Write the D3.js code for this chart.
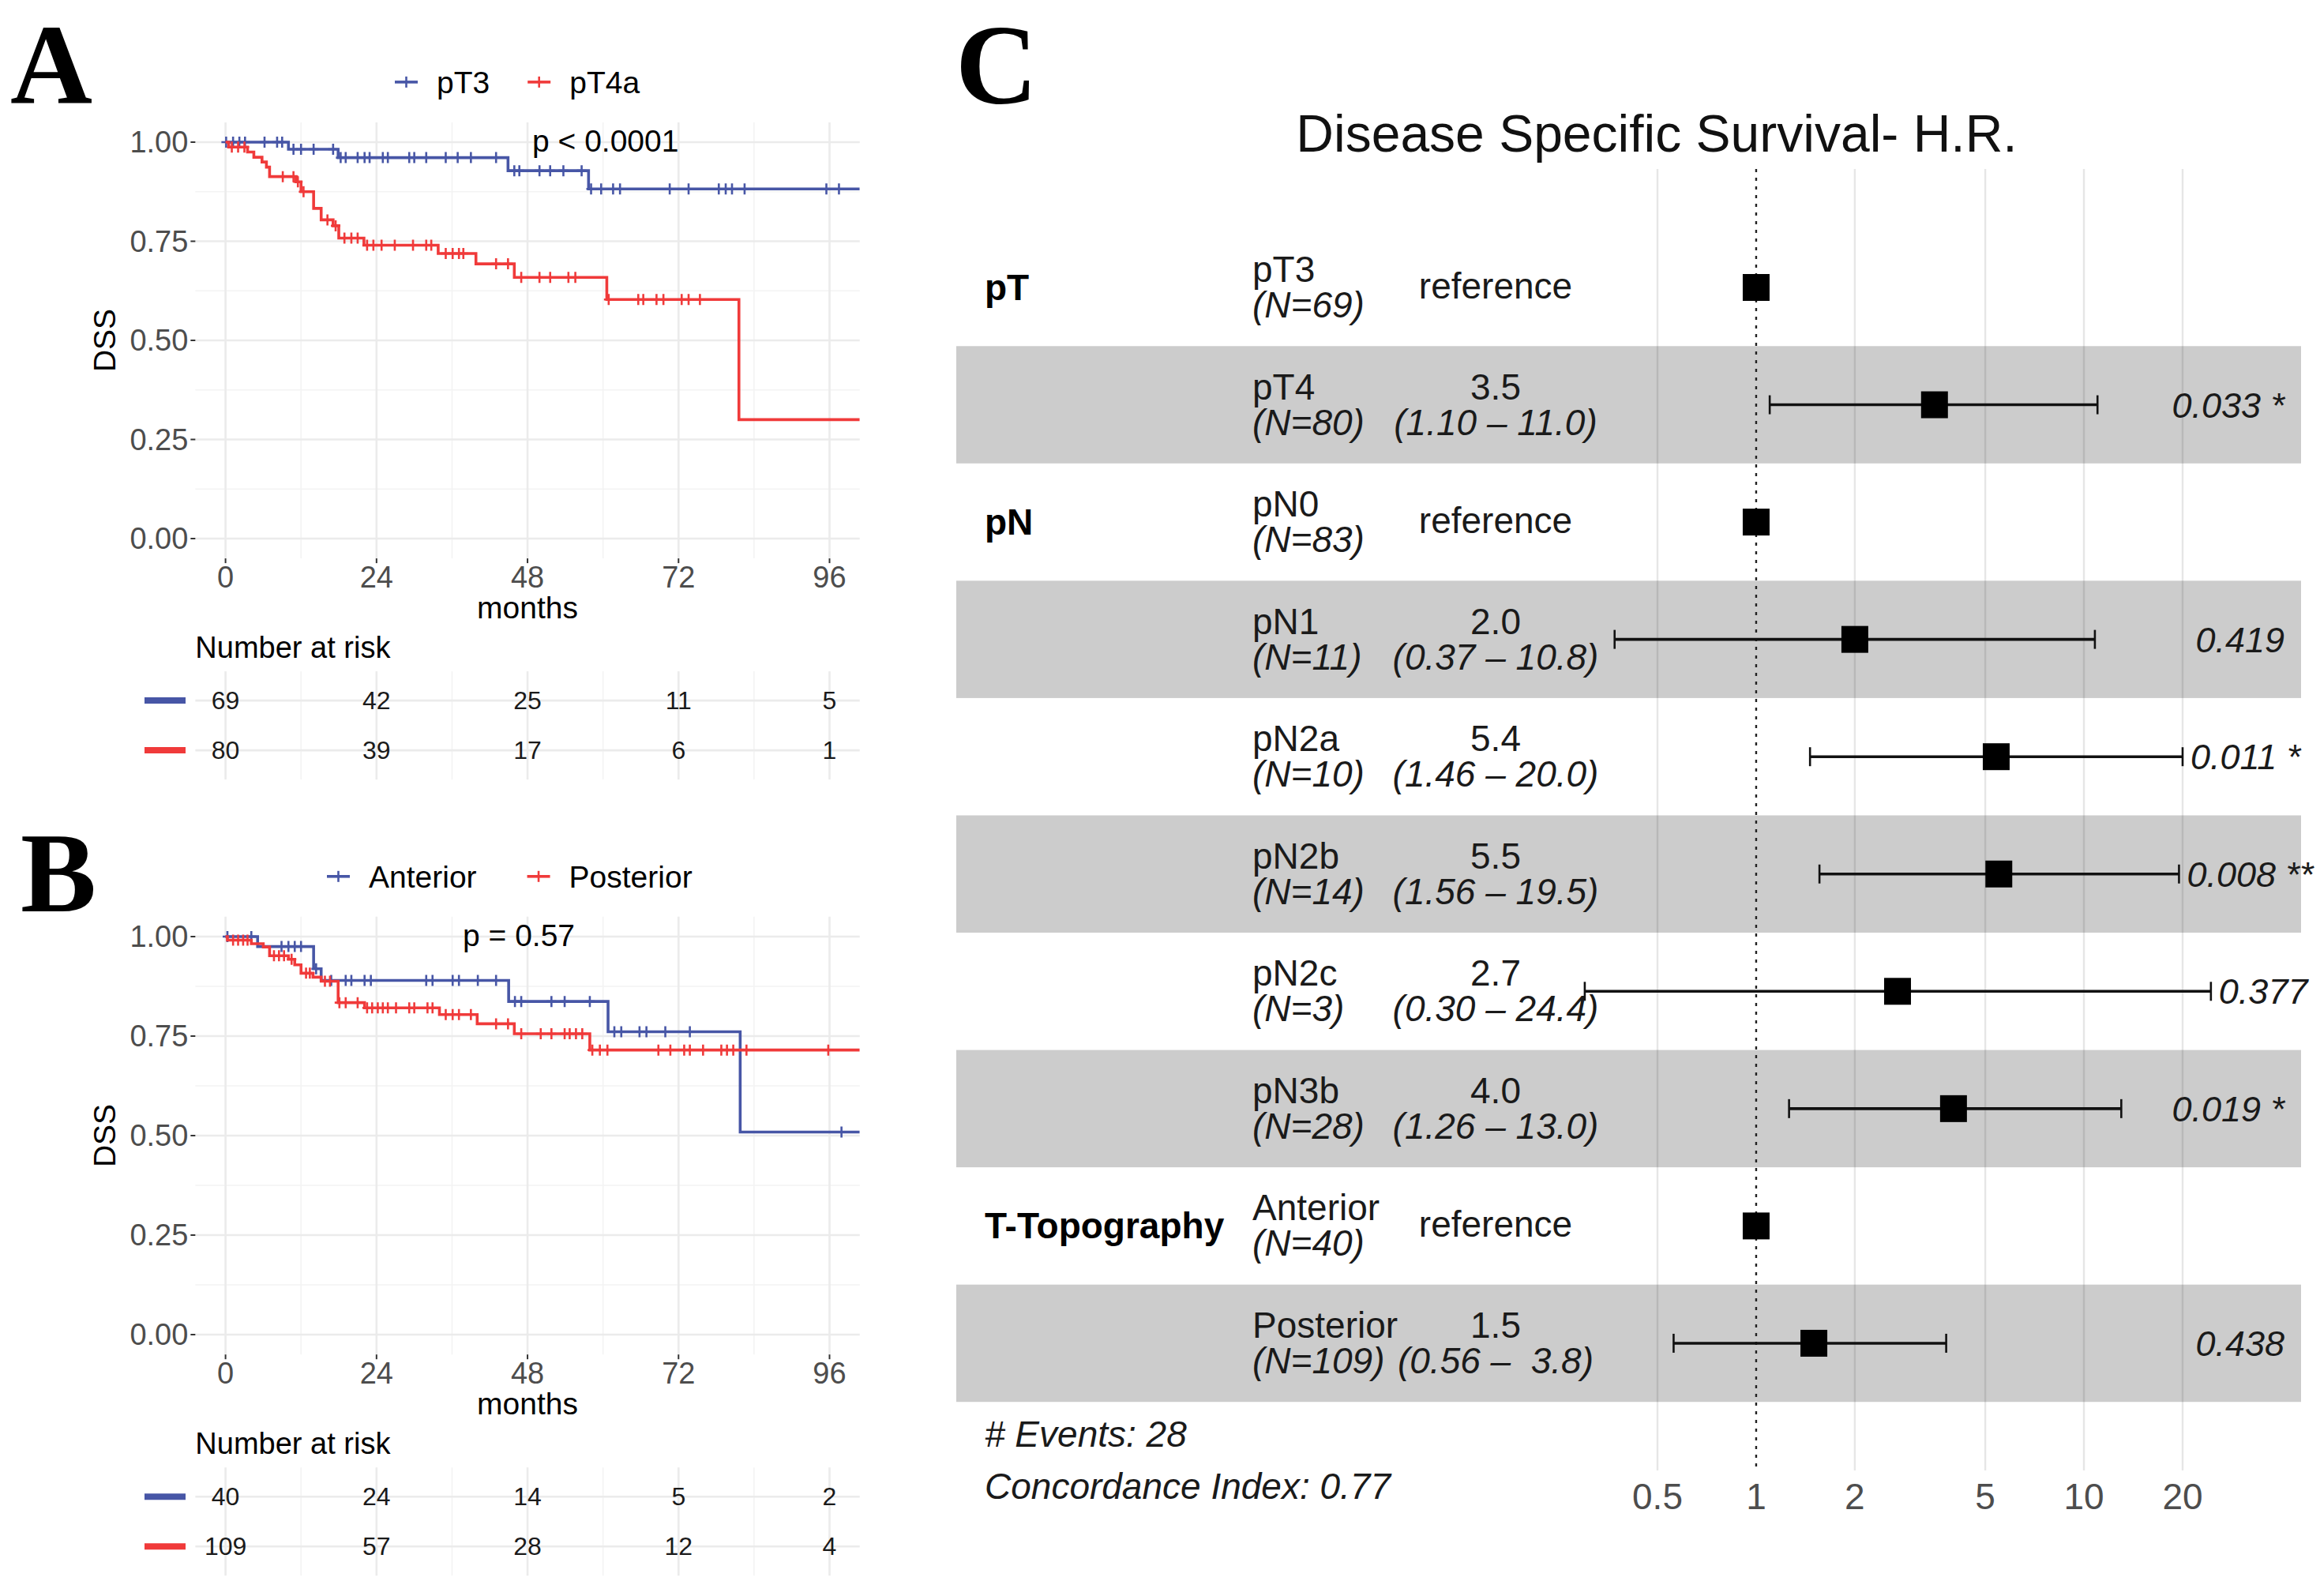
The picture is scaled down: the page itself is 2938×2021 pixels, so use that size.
<!DOCTYPE html>
<html><head><meta charset="utf-8">
<script src="https://cdn.jsdelivr.net/npm/d3@7"></script>
<style>
html,body{margin:0;padding:0;background:#fff;}
svg{display:block;font-family:"Liberation Sans",Arial,Helvetica,sans-serif;}
.pre{white-space:pre;}
</style></head><body>
<svg id="chart" width="2938" height="2021"></svg>
<script>
// ---------------- DATA ----------------
const riskTimes = [0, 24, 48, 72, 96];
const monthTicks = [0, 24, 48, 72, 96];
const survTicks = [0, 0.25, 0.5, 0.75, 1];

// Panel A: pT3 vs pT4a
const pT3Time = [0, 10.0, 17.9, 44.9, 57.7];
const pT3Surv = [1.0, 0.982, 0.961, 0.928, 0.882];
const pT3Cens = [0.1, 1.2, 2.2, 3.1, 6.2, 8.2, 9.0, 10.8, 12.0, 14.0, 17.1, 18.3, 19.1, 21.0, 22.1, 22.9, 25.0, 25.8, 29.2, 30.0, 31.9, 35.0, 36.9, 39.0, 43.0, 45.9, 46.7, 49.9, 51.6, 53.7, 56.6, 58.1, 59.7, 61.6, 62.7, 70.6, 73.6, 78.4, 79.5, 80.5, 82.5, 95.5, 97.5];
const pT3Risk = [69, 42, 25, 11, 5];

const pT4aTime = [0, 0.5, 3.5, 4.5, 5.8, 6.5, 7.0, 11.2, 12.0, 14.0, 15.2, 17.1, 18.0, 22.0, 33.8, 39.8, 45.9, 60.6, 81.6];
const pT4aSurv = [1.0, 0.9875, 0.975, 0.962, 0.95, 0.937, 0.913, 0.9, 0.875, 0.833, 0.804, 0.789, 0.758, 0.740, 0.719, 0.693, 0.659, 0.603, 0.30];
const pT4aCens = [1.0, 2.0, 3.0, 9.1, 10.8, 11.5, 12.4, 16.2, 17.5, 18.9, 20.0, 21.0, 22.5, 23.5, 24.8, 26.9, 29.8, 31.9, 32.7, 35.0, 36.1, 37.1, 37.8, 43.0, 44.9, 47.0, 49.9, 51.6, 54.5, 55.6, 60.9, 65.6, 66.4, 68.5, 69.6, 72.5, 73.6, 75.4];
const pT4aRisk = [80, 39, 17, 6, 1];

// Panel B: Anterior vs Posterior
const antTime = [0, 5.1, 14.0, 15.2, 45.0, 60.8, 81.8];
const antSurv = [1.0, 0.975, 0.919, 0.890, 0.837, 0.761, 0.509];
const antCens = [0.3, 4.1, 8.9, 10.0, 11.0, 12.0, 14.4, 16.8, 19.1, 20.0, 22.1, 23.1, 31.9, 32.9, 36.1, 37.1, 40.1, 43.0, 46.0, 47.0, 51.8, 53.9, 57.9, 61.8, 62.9, 65.8, 66.9, 69.9, 73.8, 97.9];
const antRisk = [40, 24, 14, 5, 2];

const postTime = [0, 0.3, 4.1, 6.0, 7.0, 10.0, 11.0, 12.0, 13.9, 15.2, 17.9, 22.1, 34.0, 40.0, 45.9, 57.9];
const postSurv = [1.0, 0.991, 0.982, 0.974, 0.952, 0.943, 0.929, 0.908, 0.898, 0.888, 0.834, 0.821, 0.804, 0.781, 0.756, 0.715];
const postCens = [1.2, 2.0, 2.8, 3.5, 7.7, 8.5, 9.3, 10.5, 12.8, 13.4, 15.8, 16.6, 18.1, 19.1, 21.0, 22.5, 23.3, 24.2, 25.0, 25.8, 27.1, 29.2, 30.0, 32.1, 32.9, 35.0, 36.1, 37.1, 39.0, 43.0, 44.9, 47.0, 50.1, 51.8, 53.9, 54.7, 55.7, 56.7, 58.3, 59.5, 60.7, 68.8, 70.7, 72.9, 73.8, 75.9, 78.8, 79.7, 80.7, 82.8, 95.8];
const postRisk = [109, 57, 28, 12, 4];

// Panel C: forest plot
const forestVar   = ["pT", "", "pN", "", "", "", "", "", "T-Topography", ""];
const forestLevel = ["pT3", "pT4", "pN0", "pN1", "pN2a", "pN2b", "pN2c", "pN3b", "Anterior", "Posterior"];
const forestN     = [69, 80, 83, 11, 10, 14, 3, 28, 40, 109];
const forestHR    = [1, 3.5, 1, 2.0, 5.4, 5.5, 2.7, 4.0, 1, 1.5];
const forestLo    = [null, 1.10, null, 0.37, 1.46, 1.56, 0.30, 1.26, null, 0.56];
const forestHi    = [null, 11.0, null, 10.8, 20.0, 19.5, 24.4, 13.0, null, 3.8];
const forestP     = ["", "0.033 *", "", "0.419", "0.011 *", "0.008 **", "0.377", "0.019 *", "", "0.438"];
const hrTicks = [0.5, 1, 2, 5, 10, 20];
const nEvents = 28;
const concordance = 0.77;

// ---------------- STYLE ----------------
const BLUE = "#4756a6", RED = "#f03a3a";
const SERIF = '"Liberation Serif","Times New Roman",serif';

const svg = d3.select("#chart");
svg.append("rect").attr("width", 2938).attr("height", 2021).attr("fill", "#fff");

// ---------------- KM PANELS ----------------
const kmX = d3.scaleLinear().domain([0, 96]).range([285.6, 1050.5]);
const xMin = -4.8, xMax = 100.8;

function stepAt(times, surv, t) {
  let s = surv[0];
  for (let i = 0; i < times.length; i++) if (times[i] <= t) s = surv[i];
  return s;
}

function drawKM(cfg) {
  const g = svg.append("g");
  const y = d3.scaleLinear().domain([0, 1]).range([cfg.y0, cfg.y1]);
  const top = y(1.05), bot = y(-0.05), left = kmX(xMin), right = kmX(xMax);

  // grid
  const minorY = [0.125, 0.375, 0.625, 0.875];
  const minorX = [12, 36, 60, 84];
  g.selectAll(".mny").data(minorY).join("line")
    .attr("x1", left).attr("x2", right).attr("y1", d => y(d)).attr("y2", d => y(d))
    .attr("stroke", "#f3f3f3").attr("stroke-width", 1.6);
  g.selectAll(".mnx").data(minorX).join("line")
    .attr("x1", d => kmX(d)).attr("x2", d => kmX(d)).attr("y1", top).attr("y2", bot)
    .attr("stroke", "#f3f3f3").attr("stroke-width", 1.6);
  g.selectAll(".mjy").data(survTicks).join("line")
    .attr("x1", left).attr("x2", right).attr("y1", d => y(d)).attr("y2", d => y(d))
    .attr("stroke", "#ebebeb").attr("stroke-width", 2.6);
  g.selectAll(".mjx").data(monthTicks).join("line")
    .attr("x1", d => kmX(d)).attr("x2", d => kmX(d)).attr("y1", top).attr("y2", bot)
    .attr("stroke", "#ebebeb").attr("stroke-width", 2.6);

  // axis ticks and labels
  g.selectAll(".yt").data(survTicks).join("line")
    .attr("x1", left - 6).attr("x2", left).attr("y1", d => y(d)).attr("y2", d => y(d))
    .attr("stroke", "#333").attr("stroke-width", 2);
  g.selectAll(".ytl").data(survTicks).join("text")
    .attr("x", left - 9).attr("y", d => y(d) + 13).attr("text-anchor", "end")
    .attr("font-size", 38).attr("fill", "#4d4d4d").text(d => d.toFixed(2));
  g.selectAll(".xt").data(monthTicks).join("line")
    .attr("x1", d => kmX(d)).attr("x2", d => kmX(d)).attr("y1", bot).attr("y2", bot + 6)
    .attr("stroke", "#333").attr("stroke-width", 2);
  g.selectAll(".xtl").data(monthTicks).join("text")
    .attr("x", d => kmX(d)).attr("y", bot + 37).attr("text-anchor", "middle")
    .attr("font-size", 38).attr("fill", "#4d4d4d").text(d => d);

  g.append("text").attr("x", (left + right) / 2).attr("y", bot + 76).attr("text-anchor", "middle")
    .attr("font-size", 39).attr("fill", "#000").text("months");
  g.append("text").attr("transform", `translate(146,${(top + bot) / 2}) rotate(-90)`)
    .attr("text-anchor", "middle").attr("font-size", 39).attr("fill", "#000").text("DSS");

  // curves
  const clipId = "clip" + cfg.id;
  svg.append("clipPath").attr("id", clipId).append("rect")
    .attr("x", left).attr("y", top - 10).attr("width", right - left).attr("height", bot - top + 20);
  const cg = g.append("g").attr("clip-path", `url(#${clipId})`);
  const line = d3.line().x(d => kmX(d[0])).y(d => y(d[1])).curve(d3.curveStepAfter);
  cfg.groups.forEach(gr => {
    const pts = gr.time.map((t, i) => [t, gr.surv[i]]);
    pts.push([xMax, gr.surv[gr.surv.length - 1]]);
    cg.append("path").datum(pts).attr("d", line).attr("fill", "none")
      .attr("stroke", gr.color).attr("stroke-width", 3.6).attr("stroke-linejoin", "miter");
    cg.selectAll(null).data(gr.cens).join("path")
      .attr("d", t => {
        const cx = kmX(t), cy = y(stepAt(gr.time, gr.surv, t));
        return `M${cx},${cy - 7}V${cy + 7}M${cx - 6},${cy}H${cx + 6}`;
      })
      .attr("stroke", gr.color).attr("stroke-width", 2.6).attr("fill", "none");
  });

  // p-value
  g.append("text").attr("x", cfg.pX).attr("y", top + 37).attr("font-size", 39)
    .attr("fill", "#000").text(cfg.pText);

  // legend
  const ly = top - 51;
  let cx = cfg.legendX;
  cfg.groups.forEach((gr, i) => {
    g.append("line").attr("x1", cx).attr("x2", cx + 29).attr("y1", ly).attr("y2", ly)
      .attr("stroke", gr.color).attr("stroke-width", 3.6);
    g.append("line").attr("x1", cx + 14.5).attr("x2", cx + 14.5).attr("y1", ly - 7).attr("y2", ly + 7)
      .attr("stroke", gr.color).attr("stroke-width", 2.6);
    const t = g.append("text").attr("x", cx + 53).attr("y", ly + 14).attr("font-size", 39)
      .attr("fill", "#000").text(gr.name);
    cx += 53 + t.node().getComputedTextLength() + cfg.legendGap;
  });

  // risk table
  g.append("text").attr("x", left).attr("y", bot + 126).attr("font-size", 38)
    .attr("fill", "#000").text("Number at risk");
  const rt = bot + 143, rb = bot + 280;
  const rowYs = [bot + 180, bot + 243];
  g.selectAll(".rtg").data([0, 12, 24, 36, 48, 60, 72, 84, 96]).join("line")
    .attr("x1", d => kmX(d)).attr("x2", d => kmX(d)).attr("y1", rt).attr("y2", rb)
    .attr("stroke", d => d % 24 === 0 ? "#ebebeb" : "#f3f3f3").attr("stroke-width", d => d % 24 === 0 ? 2.6 : 1.6);
  cfg.groups.forEach((gr, i) => {
    const ry = rowYs[i];
    g.append("line").attr("x1", left).attr("x2", right).attr("y1", ry).attr("y2", ry)
      .attr("stroke", "#ebebeb").attr("stroke-width", 2.6);
    g.append("line").attr("x1", 183).attr("x2", 235).attr("y1", ry).attr("y2", ry)
      .attr("stroke", gr.color).attr("stroke-width", 8);
    g.selectAll(null).data(gr.risk).join("text")
      .attr("x", (d, j) => kmX(riskTimes[j])).attr("y", ry + 11).attr("text-anchor", "middle")
      .attr("font-size", 32).attr("fill", "#1a1a1a").text(d => d);
  });

  // panel letter
  svg.append("text").attr("x", cfg.letterX).attr("y", cfg.letterY)
    .attr("font-family", SERIF).attr("font-weight", "bold").attr("font-size", 144)
    .attr("fill", "#000").text(cfg.letter);
}

drawKM({
  id: "A", y0: 682, y1: 180, letter: "A", letterX: 13, letterY: 131,
  pText: "p < 0.0001", pX: 674, legendX: 500, legendGap: 48,
  groups: [
    {name: "pT3", color: BLUE, time: pT3Time, surv: pT3Surv, cens: pT3Cens, risk: pT3Risk},
    {name: "pT4a", color: RED, time: pT4aTime, surv: pT4aSurv, cens: pT4aCens, risk: pT4aRisk}
  ]
});
drawKM({
  id: "B", y0: 1690, y1: 1186, letter: "B", letterX: 26, letterY: 1154,
  pText: "p = 0.57", pX: 586, legendX: 414, legendGap: 64,
  groups: [
    {name: "Anterior", color: BLUE, time: antTime, surv: antSurv, cens: antCens, risk: antRisk},
    {name: "Posterior", color: RED, time: postTime, surv: postSurv, cens: postCens, risk: postRisk}
  ]
});

// ---------------- FOREST PANEL ----------------
(function () {
  const g = svg.append("g");
  const fx = d3.scaleLog().domain([0.5, 20]).range([2099, 2764]);
  const rowY = i => 364 + i * 148.55;
  const rowH = 148.55;
  const gTop = 214, gBot = 1862;
  const FS = 46;

  svg.append("text").attr("x", 1210).attr("y", 131)
    .attr("font-family", SERIF).attr("font-weight", "bold").attr("font-size", 144)
    .attr("fill", "#000").text("C");

  g.append("text").attr("x", 2098).attr("y", 192).attr("text-anchor", "middle")
    .attr("font-size", 66).attr("fill", "#111").text("Disease Specific Survival- H.R.");

  // gridlines
  g.selectAll(".vg").data(hrTicks.filter(d => d !== 1)).join("line")
    .attr("x1", d => fx(d)).attr("x2", d => fx(d)).attr("y1", gTop).attr("y2", gBot)
    .attr("stroke", "#e6e6e6").attr("stroke-width", 2.4);

  // bands
  g.selectAll(".band").data(forestLevel.map((d, i) => i).filter(i => i % 2 === 1)).join("rect")
    .attr("x", 1211).attr("width", 2914 - 1211)
    .attr("y", i => rowY(i) - rowH / 2).attr("height", rowH)
    .attr("fill", "#000").attr("fill-opacity", 0.2);

  // reference line
  g.append("line").attr("x1", fx(1)).attr("x2", fx(1)).attr("y1", gTop).attr("y2", gBot)
    .attr("stroke", "#222").attr("stroke-width", 2.4).attr("stroke-dasharray", "4 7");

  // tick labels
  g.selectAll(".tl").data(hrTicks).join("text")
    .attr("x", d => fx(d)).attr("y", 1911).attr("text-anchor", "middle")
    .attr("font-size", FS).attr("fill", "#4d4d4d").text(d => d);

  forestLevel.forEach((lev, i) => {
    const yy = rowY(i);
    const isRef = forestLo[i] === null;
    if (forestVar[i]) {
      g.append("text").attr("x", 1247).attr("y", yy + 16).attr("font-size", FS)
        .attr("font-weight", "bold").attr("fill", "#000").text(forestVar[i]);
    }
    g.append("text").attr("x", 1586).attr("y", yy - 7).attr("font-size", FS)
      .attr("fill", "#1a1a1a").text(lev);
    g.append("text").attr("x", 1586).attr("y", yy + 38).attr("font-size", FS)
      .attr("font-style", "italic").attr("fill", "#1a1a1a").text(`(N=${forestN[i]})`);
    if (isRef) {
      g.append("text").attr("x", 1894).attr("y", yy + 14).attr("text-anchor", "middle")
        .attr("font-size", FS).attr("fill", "#1a1a1a").text("reference");
    } else {
      g.append("text").attr("x", 1894).attr("y", yy - 7).attr("text-anchor", "middle")
        .attr("font-size", FS).attr("fill", "#1a1a1a").text(forestHR[i].toFixed(1));
      const ci = "(" + forestLo[i].toFixed(2) + " \u2013 " + forestHi[i].toFixed(1).padStart(4, " ") + ")";
      g.append("text").attr("class", "pre").attr("x", 1894).attr("y", yy + 38).attr("text-anchor", "middle")
        .attr("font-size", FS).attr("font-style", "italic").attr("fill", "#1a1a1a").text(ci);
      // error bar
      const x1 = fx(forestLo[i]), x2 = fx(forestHi[i]);
      g.append("line").attr("x1", x1).attr("x2", x2).attr("y1", yy).attr("y2", yy)
        .attr("stroke", "#111").attr("stroke-width", 3.6);
      [x1, x2].forEach(xx => g.append("line").attr("x1", xx).attr("x2", xx)
        .attr("y1", yy - 12).attr("y2", yy + 12).attr("stroke", "#111").attr("stroke-width", 2.6));
      // p-value
      const pt = g.append("text").attr("class", "pre").attr("y", yy + 16).attr("font-size", 45)
        .attr("font-style", "italic").attr("fill", "#1a1a1a").text(forestP[i]);
      const w = pt.node().getComputedTextLength();
      pt.attr("x", Math.max(2893 - w, x2 + 10));
    }
    g.append("rect").attr("x", fx(forestHR[i]) - 17).attr("y", yy - 17)
      .attr("width", 34).attr("height", 34).attr("fill", "#000");
  });

  g.append("text").attr("x", 1247).attr("y", 1832).attr("font-size", FS)
    .attr("font-style", "italic").attr("fill", "#1a1a1a").text(`# Events: ${nEvents}`);
  g.append("text").attr("x", 1247).attr("y", 1898).attr("font-size", FS)
    .attr("font-style", "italic").attr("fill", "#1a1a1a").text(`Concordance Index: ${concordance}`);
})();
</script>
</body></html>
